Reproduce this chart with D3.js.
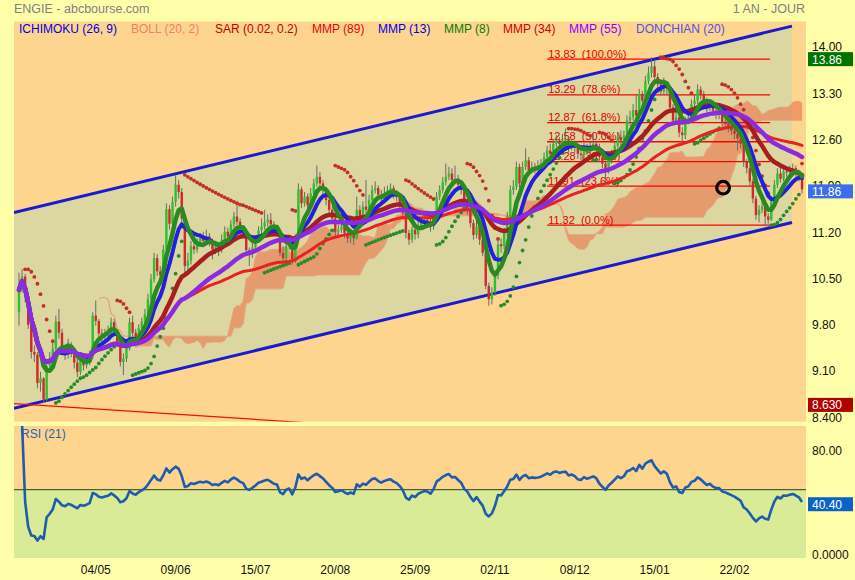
<!DOCTYPE html>
<html>
<head>
<meta charset="utf-8">
<title>ENGIE - abcbourse.com</title>
<script src="https://cdn.jsdelivr.net/npm/d3@7"></script>
<style>
html, body { margin: 0; padding: 0; background: #ffffaa; }
svg { display: block; font-family: Arial, "Liberation Sans", sans-serif; }
</style>
</head>
<body>
<svg id="chart" width="855" height="580"></svg>
<script>
// daily quotes, one value per session (open = previous close)
var firstOpen = 10.00;
var closes = [
  10.34, 10.54, 10.25, 9.81, 9.40, 9.36, 8.93, 9.00, 8.68, 9.19,
  9.30, 9.45, 9.86, 9.69, 9.43, 9.36, 9.47, 9.40, 9.24, 9.10,
  9.28, 9.20, 9.26, 9.35, 9.95, 9.87, 9.68, 9.62, 9.68, 9.72,
  9.85, 9.72, 9.55, 9.25, 9.30, 9.45, 9.85, 9.69, 9.62, 9.76,
  9.86, 9.97, 10.20, 10.50, 10.82, 10.62, 10.56, 10.95, 11.56, 11.34,
  11.67, 11.93, 11.82, 11.42, 10.70, 10.78, 11.00, 10.95, 11.05, 11.12,
  11.08, 11.15, 11.08, 10.95, 11.00, 10.95, 11.10, 11.22, 11.15, 11.33,
  11.45, 11.37, 11.26, 11.20, 10.94, 10.88, 10.98, 11.10, 11.24, 11.30,
  11.36, 11.40, 11.33, 11.25, 11.22, 10.90, 10.82, 11.00, 11.05, 10.80,
  11.10, 11.86, 11.65, 11.75, 11.62, 11.80, 11.95, 12.05, 11.95, 11.85,
  11.70, 11.55, 11.42, 11.22, 11.25, 11.30, 11.20, 11.12, 11.18, 11.12,
  11.55, 11.45, 11.60, 11.55, 11.70, 11.85, 11.88, 11.78, 11.72, 11.80,
  11.85, 11.88, 11.80, 11.75, 11.65, 11.50, 11.20, 11.10, 11.25, 11.18,
  11.30, 11.35, 11.40, 11.38, 11.30, 11.45, 11.75, 11.85, 11.97, 12.05,
  12.10, 12.00, 12.02, 11.93, 11.85, 11.65, 11.55, 11.35, 11.17, 11.30,
  11.10, 10.90, 10.40, 10.20, 10.30, 10.56, 11.03, 11.00, 11.20, 11.45,
  11.85, 11.90, 12.20, 11.95, 12.20, 12.30, 12.15, 12.20, 12.18, 12.20,
  12.25, 12.35, 12.45, 12.40, 12.55, 12.60, 12.55, 12.60, 12.62, 12.50,
  12.55, 12.50, 12.40, 12.38, 12.50, 12.45, 12.50, 12.55, 12.50, 12.35,
  12.25, 12.15, 12.30, 12.40, 12.52, 12.65, 12.60, 12.68, 12.90, 12.95,
  13.06, 12.98, 13.30, 13.20, 13.50, 13.62, 13.72, 13.56, 13.45, 13.34,
  13.45, 13.38, 13.10, 12.90, 12.95, 12.72, 12.68, 12.90, 12.95, 13.15,
  13.20, 13.37, 13.30, 13.20, 13.10, 13.15, 13.05, 13.00, 13.00, 12.88,
  12.85, 12.80, 12.75, 12.70, 12.63, 12.55, 12.28, 12.18, 11.98, 11.72,
  11.47, 11.55, 11.60, 11.45, 11.40, 11.67, 11.93, 12.10, 12.02, 12.13,
  12.12, 12.15, 12.18, 12.12, 12.05, 11.86
];
var highs = [
  10.60, 10.65, 10.58, 10.30, 9.85, 9.50, 9.40, 9.10, 9.02, 9.25,
  9.40, 9.55, 9.95, 10.05, 9.75, 9.50, 9.60, 9.55, 9.45, 9.30,
  9.35, 9.38, 9.33, 9.42, 10.00, 10.18, 9.90, 9.75, 9.75, 9.80,
  9.92, 9.90, 9.75, 9.58, 9.38, 9.52, 9.92, 9.95, 9.75, 9.82,
  9.92, 10.05, 10.28, 10.58, 10.90, 10.88, 10.70, 11.02, 11.65, 11.62,
  11.75, 12.08, 12.00, 11.88, 11.45, 10.90, 11.08, 11.10, 11.12, 11.20,
  11.22, 11.25, 11.20, 11.12, 11.08, 11.05, 11.18, 11.30, 11.28, 11.40,
  11.52, 11.62, 11.42, 11.30, 11.22, 10.98, 11.05, 11.16, 11.30, 11.42,
  11.55, 11.48, 11.50, 11.38, 11.32, 11.25, 11.00, 11.08, 11.12, 11.10,
  11.18, 11.95, 11.90, 11.82, 11.80, 11.88, 12.02, 12.22, 12.12, 12.00,
  11.90, 11.75, 11.60, 11.48, 11.32, 11.38, 11.35, 11.28, 11.25, 11.22,
  11.75, 11.62, 11.68, 12.00, 11.78, 11.92, 11.98, 11.92, 11.85, 11.90,
  11.92, 11.95, 11.92, 11.85, 11.80, 11.70, 11.52, 11.25, 11.30, 11.30,
  11.38, 11.42, 11.48, 11.46, 11.42, 11.52, 11.82, 11.92, 12.05, 12.25,
  12.20, 12.18, 12.22, 12.08, 11.98, 11.90, 11.72, 11.60, 11.40, 11.38,
  11.35, 11.15, 10.92, 10.45, 10.38, 10.62, 11.10, 11.12, 11.28, 11.52,
  11.92, 12.00, 12.28, 12.25, 12.28, 12.48, 12.35, 12.28, 12.26, 12.30,
  12.32, 12.42, 12.52, 12.55, 12.62, 12.68, 12.65, 12.70, 12.78, 12.66,
  12.62, 12.60, 12.55, 12.45, 12.56, 12.55, 12.58, 12.72, 12.60, 12.55,
  12.40, 12.30, 12.36, 12.46, 12.58, 12.72, 12.75, 12.75, 12.98, 13.05,
  13.15, 13.28, 13.38, 13.35, 13.58, 13.72, 13.86, 13.80, 13.62, 13.52,
  13.55, 13.50, 13.42, 13.15, 13.05, 12.98, 12.80, 12.96, 13.02, 13.22,
  13.30, 13.45, 13.42, 13.35, 13.25, 13.22, 13.18, 13.10, 13.08, 13.05,
  12.95, 12.90, 12.85, 12.80, 12.75, 12.68, 12.60, 12.32, 12.22, 12.02,
  11.76, 11.62, 11.68, 11.65, 11.50, 11.72, 12.00, 12.18, 12.20, 12.20,
  12.20, 12.22, 12.25, 12.22, 12.16, 12.08
];
var lows = [
  9.80, 10.30, 10.15, 9.75, 9.30, 9.25, 8.85, 8.80, 8.63, 8.65,
  9.10, 9.25, 9.40, 9.60, 9.35, 9.28, 9.30, 9.32, 9.15, 9.02,
  9.05, 9.12, 9.15, 9.20, 9.30, 9.80, 9.60, 9.55, 9.58, 9.62,
  9.68, 9.65, 9.48, 9.18, 9.05, 9.25, 9.42, 9.62, 9.55, 9.58,
  9.70, 9.80, 9.92, 10.15, 10.45, 10.55, 10.45, 10.50, 10.90, 11.25,
  11.30, 11.60, 11.72, 11.35, 10.60, 10.62, 10.72, 10.88, 10.90, 11.00,
  11.00, 11.02, 11.00, 10.80, 10.88, 10.85, 10.90, 11.05, 11.08, 11.10,
  11.28, 11.32, 11.20, 11.12, 10.88, 10.70, 10.82, 10.92, 11.05, 11.18,
  11.25, 11.30, 11.28, 11.18, 11.15, 10.85, 10.75, 10.78, 10.95, 10.72,
  10.75, 11.05, 11.58, 11.60, 11.55, 11.58, 11.75, 11.90, 11.88, 11.78,
  11.62, 11.48, 11.35, 11.15, 11.15, 11.20, 11.12, 11.05, 11.05, 11.02,
  11.10, 11.38, 11.40, 11.50, 11.50, 11.65, 11.80, 11.72, 11.65, 11.68,
  11.75, 11.78, 11.72, 11.68, 11.58, 11.42, 11.12, 11.02, 11.05, 11.10,
  11.12, 11.25, 11.30, 11.30, 11.22, 11.25, 11.40, 11.70, 11.80, 11.92,
  12.00, 11.92, 11.95, 11.85, 11.78, 11.58, 11.48, 11.28, 11.10, 11.12,
  11.02, 10.85, 10.35, 10.10, 10.12, 10.25, 10.50, 10.90, 10.95, 11.15,
  11.40, 11.78, 11.85, 11.88, 11.90, 12.15, 12.08, 12.10, 12.10, 12.12,
  12.15, 12.18, 12.30, 12.32, 12.35, 12.50, 12.48, 12.50, 12.55, 12.42,
  12.45, 12.42, 12.32, 12.30, 12.32, 12.38, 12.40, 12.45, 12.42, 12.28,
  12.18, 11.95, 12.10, 12.25, 12.35, 12.48, 12.52, 12.55, 12.62, 12.82,
  12.90, 12.92, 12.95, 13.12, 13.15, 13.45, 13.55, 13.48, 13.38, 13.28,
  13.30, 13.30, 13.02, 12.82, 12.85, 12.65, 12.55, 12.62, 12.85, 12.90,
  13.10, 13.15, 13.22, 13.12, 13.02, 13.05, 12.98, 12.92, 12.92, 12.80,
  12.78, 12.72, 12.68, 12.62, 12.45, 12.48, 12.20, 12.10, 11.90, 11.65,
  11.40, 11.36, 11.50, 11.32, 11.34, 11.38, 11.62, 11.88, 11.96, 11.98,
  12.05, 12.08, 12.10, 12.05, 11.98, 11.80
];

var dateTicks = [25, 51, 77, 103, 129, 155, 181, 207, 233];
var dateLabels = ['04/05', '09/06', '15/07', '20/08', '25/09', '02/11', '08/12', '15/01', '22/02'];

var priceTicks = [14.0, 13.3, 12.6, 11.9, 11.2, 10.5, 9.8, 9.1, 8.4];
var priceTickLabels = ['14.00', '13.30', '12.60', '11.90', '11.20', '10.50', '9.80', '9.10', '8.400'];
var rsiTicks = [80, 0];
var rsiTickLabels = ['80.00', '0.0000'];
var rsiLast = 40.40;

var fibLevels = [13.83, 13.29, 12.87, 12.58, 12.28, 11.91, 11.32];
var fibPercents = ['100.0%', '78.6%', '61.8%', '50.0%', '38.2%', '23.6%', '0.0%'];
var fibRange = [172, 244.6];

// regression channel and trend line, as [session index, price]
var channelUpper = [[-1.6, 11.51], [251.8, 14.33]];
var channelLower = [[-1.6, 8.55], [251.8, 11.36]];
var trendLine = [[-1.6, 8.62], [100, 8.31]];
var markerPoint = [229.3, 11.885];

var legendLabels = ['ICHIMOKU (26, 9)', 'BOLL (20, 2)', 'SAR (0.02, 0.2)', 'MMP (89)', 'MMP (13)',
  'MMP (8)', 'MMP (34)', 'MMP (55)', 'DONCHIAN (20)'];

(function () {
    'use strict';

    var W = 855;
    var MAIN = { left: 14, right: 806, top: 21.5, bottom: 421.7, plotRight: 792 };
    var RSIP = { top: 426, bottom: 558 };

    var legendColors = ['#0000dd', '#f08070', '#c00000', '#ee0000', '#0000dd',
        '#008000', '#d00000', '#8a00ff', '#5050e0'];
    var legendX = [19, 131, 215, 312, 378, 444, 503, 569, 636];

    var svg = d3.select('#chart');

    var x = d3.scaleLinear().domain([0, closes.length - 1]).range([19, 802]);
    var y = d3.scaleLinear().domain([8.4, 14]).range([418.1, 47.9]);
    var yr = d3.scaleLinear().domain([0, 80]).range([555, 450.5]);

    /**
     * Weighted moving average (MMP). Early sessions use the data available.
     */
    function wma(values, period) {
        return values.map(function (v, i) {
            var n = Math.min(period, i + 1), sum = 0, wsum = 0;
            for (var k = 0; k < n; k++) {
                sum += values[i - k] * (n - k);
                wsum += n - k;
            }
            return sum / wsum;
        });
    }

    /**
     * Parabolic SAR, step 0.02, max 0.2
     */
    function parabolicSar(hi, lo, step, maxStep) {
        var out = [];
        var up = false, af = step;
        var sar = Math.max(hi[0], hi[1]);
        var ep = Math.min(lo[0], lo[1]);
        for (var i = 2; i < hi.length; i++) {
            sar = sar + af * (ep - sar);
            if (up) {
                sar = Math.min(sar, lo[i - 1], lo[i - 2]);
                if (lo[i] < sar) {
                    up = false; sar = ep; ep = lo[i]; af = step;
                } else if (hi[i] > ep) {
                    ep = hi[i]; af = Math.min(af + step, maxStep);
                }
            } else {
                sar = Math.max(sar, hi[i - 1], hi[i - 2]);
                if (hi[i] > sar) {
                    up = true; sar = ep; ep = hi[i]; af = step;
                } else if (lo[i] < ep) {
                    ep = lo[i]; af = Math.min(af + step, maxStep);
                }
            }
            out.push({ i: i, value: sar, up: up });
        }
        return out;
    }

    function midRange(hi, lo, i, period) {
        var from = Math.max(0, i - period + 1);
        var h = d3.max(hi.slice(from, i + 1));
        var l = d3.min(lo.slice(from, i + 1));
        return (h + l) / 2;
    }

    /**
     * Ichimoku cloud (tenkan 9, kijun 26, span B 52), shifted 26 sessions
     */
    function ichimokuCloud(hi, lo) {
        var out = [];
        for (var i = 26; i < hi.length; i++) {
            var j = i - 26;
            out.push({
                i: i,
                a: (midRange(hi, lo, j, 9) + midRange(hi, lo, j, 26)) / 2,
                b: midRange(hi, lo, j, 52)
            });
        }
        return out;
    }

    function rsi(values, period) {
        var out = [], avgG = 0, avgL = 0;
        for (var i = 1; i < values.length; i++) {
            var ch = values[i] - values[i - 1];
            var g = Math.max(ch, 0), l = Math.max(-ch, 0);
            var n = Math.min(i, period);
            avgG = (avgG * (n - 1) + g) / n;
            avgL = (avgL * (n - 1) + l) / n;
            out.push({ i: i, v: avgL === 0 ? 100 : 100 - 100 / (1 + avgG / avgL) });
        }
        return out;
    }

    var candles = closes.map(function (c, i) {
        return { i: i, o: i === 0 ? firstOpen : closes[i - 1], c: c, h: highs[i], l: lows[i] };
    });

    // --- titles
    svg.append('text').attr('x', 14).attr('y', 12.7).attr('font-size', 12.5)
        .attr('fill', '#808080').text('ENGIE - abcbourse.com');
    svg.append('text').attr('x', 805).attr('y', 12.7).attr('font-size', 12.5)
        .attr('text-anchor', 'end').attr('fill', '#808080').text('1 AN - JOUR');

    // --- panels
    var defs = svg.append('defs');
    defs.append('clipPath').attr('id', 'clip-main').append('rect')
        .attr('x', MAIN.left).attr('y', MAIN.top)
        .attr('width', MAIN.right - MAIN.left).attr('height', MAIN.bottom - MAIN.top);
    defs.append('clipPath').attr('id', 'clip-rsi').append('rect')
        .attr('x', MAIN.left).attr('y', RSIP.top)
        .attr('width', MAIN.right - MAIN.left).attr('height', RSIP.bottom - RSIP.top);

    svg.append('rect').attr('x', MAIN.left).attr('y', MAIN.top)
        .attr('width', MAIN.right - MAIN.left).attr('height', MAIN.bottom - MAIN.top)
        .attr('fill', '#fed58f');

    var main = svg.append('g').attr('clip-path', 'url(#clip-main)');

    // channel fill between the two regression lines
    var xl = MAIN.left, xr = MAIN.plotRight;
    function lineAt(pts, px) {
        var i = x.invert(px);
        var t = (i - pts[0][0]) / (pts[1][0] - pts[0][0]);
        return y(pts[0][1] + t * (pts[1][1] - pts[0][1]));
    }
    main.append('path')
        .attr('d', 'M' + xl + ',' + lineAt(channelUpper, xl) + 'L' + xr + ',' + lineAt(channelUpper, xr)
            + 'L' + xr + ',' + lineAt(channelLower, xr) + 'L' + xl + ',' + lineAt(channelLower, xl) + 'Z')
        .attr('fill', '#dcd7a0');

    // ichimoku cloud
    var cloud = ichimokuCloud(highs, lows);
    main.append('path').datum(cloud)
        .attr('d', d3.area().x(function (d) { return x(d.i); })
            .y0(function (d) { return y(d.a); }).y1(function (d) { return y(d.b); }))
        .attr('fill', 'rgba(232,118,78,0.62)');
    ['a', 'b'].forEach(function (k) {
        main.append('path').datum(cloud)
            .attr('d', d3.line().x(function (d) { return x(d.i); }).y(function (d) { return y(d[k]); }))
            .attr('fill', 'none').attr('stroke', '#eba27e').attr('stroke-width', 1);
    });

    // fibonacci retracement
    var fib = main.append('g');
    fibLevels.forEach(function (lv, k) {
        fib.append('line').attr('x1', x(fibRange[0])).attr('x2', x(fibRange[1]))
            .attr('y1', y(lv)).attr('y2', y(lv))
            .attr('stroke', '#ff0000').attr('stroke-width', 1.3);
        fib.append('text').attr('x', x(fibRange[0]) + 1).attr('y', y(lv) - 1.5)
            .attr('font-size', 11).attr('fill', '#e00000').style('white-space', 'pre')
            .text(lv.toFixed(2) + '  (' + fibPercents[k] + ')');
    });

    // channel lines and trend line
    [channelUpper, channelLower].forEach(function (pts) {
        main.append('line').attr('x1', xl).attr('y1', lineAt(pts, xl))
            .attr('x2', xr).attr('y2', lineAt(pts, xr))
            .attr('stroke', '#1a1ad0').attr('stroke-width', 3);
    });
    main.append('line')
        .attr('x1', x(trendLine[0][0])).attr('y1', y(trendLine[0][1]))
        .attr('x2', x(trendLine[1][0])).attr('y2', y(trendLine[1][1]))
        .attr('stroke', '#ee1010').attr('stroke-width', 1.2);

    // candles
    var cg = main.append('g');
    cg.selectAll('line.wick').data(candles).enter().append('line')
        .attr('x1', function (d) { return x(d.i); }).attr('x2', function (d) { return x(d.i); })
        .attr('y1', function (d) { return y(d.h); }).attr('y2', function (d) { return y(d.l); })
        .attr('stroke', '#6a6a6a').attr('stroke-width', 1);
    cg.selectAll('rect').data(candles).enter().append('rect')
        .attr('x', function (d) { return x(d.i) - 1.2; })
        .attr('width', 2.4)
        .attr('y', function (d) { return y(Math.max(d.o, d.c)); })
        .attr('height', function (d) { return Math.max(1, Math.abs(y(d.o) - y(d.c))); })
        .attr('fill', function (d) { return d.c >= d.o ? '#2fc02f' : '#cf2a2a'; });

    // parabolic SAR dots
    main.append('g').selectAll('circle').data(parabolicSar(highs, lows, 0.02, 0.2)).enter()
        .append('circle')
        .attr('cx', function (d) { return x(d.i); })
        .attr('cy', function (d) { return y(d.value); })
        .attr('r', 1.9)
        .attr('fill', function (d) { return d.up ? '#2a8a2a' : '#c0302c'; });

    // weighted moving averages
    var maStyles = [
        { p: 89, color: '#e82222', w: 3 },
        { p: 34, color: '#a81e1e', w: 4.5 },
        { p: 13, color: '#2020dd', w: 4 },
        { p: 8, color: '#2a8a22', w: 4.5 },
        { p: 55, color: '#8a2be2', w: 4.5 }
    ];
    maStyles.forEach(function (s) {
        var vals = wma(closes, s.p);
        main.append('path').datum(vals)
            .attr('d', d3.line().x(function (d, i) { return x(i); }).y(function (d) { return y(d); }))
            .attr('fill', 'none').attr('stroke', s.color).attr('stroke-width', s.w)
            .attr('stroke-linejoin', 'round').attr('stroke-linecap', 'round');
    });

    // annotation circle
    main.append('circle').attr('cx', x(markerPoint[0])).attr('cy', y(markerPoint[1]))
        .attr('r', 6.3).attr('fill', 'none').attr('stroke', '#000').attr('stroke-width', 3.2);

    // legend
    legendLabels.forEach(function (t, k) {
        svg.append('text').attr('x', legendX[k]).attr('y', 33.3).attr('font-size', 12)
            .attr('fill', legendColors[k]).text(t);
    });

    // price axis
    var ax = svg.append('g').attr('font-size', 12).attr('fill', '#111');
    priceTicks.forEach(function (v, k) {
        ax.append('text').attr('x', 812).attr('y', y(v) + 3.5).text(priceTickLabels[k]);
    });

    var fmt = d3.format('.4r');
    function badge(value, scale, color) {
        var cy = scale(value) + 2;
        svg.append('rect').attr('x', 808).attr('y', cy - 7).attr('width', 45).attr('height', 14)
            .attr('fill', color);
        svg.append('text').attr('x', 812).attr('y', cy + 4.5).attr('font-size', 12)
            .attr('fill', '#fff').text(fmt(value));
    }
    badge(d3.max(highs), y, '#007400');
    badge(closes[closes.length - 1], y, '#3b6cf2');
    badge(d3.min(lows), y, '#b00000');

    // --- RSI panel
    var y50 = yr(50);
    svg.append('rect').attr('x', MAIN.left).attr('y', RSIP.top)
        .attr('width', MAIN.right - MAIN.left).attr('height', y50 - RSIP.top).attr('fill', '#fed58f');
    svg.append('rect').attr('x', MAIN.left).attr('y', y50)
        .attr('width', MAIN.right - MAIN.left).attr('height', RSIP.bottom - y50).attr('fill', '#d9eb96');
    svg.append('line').attr('x1', MAIN.left).attr('x2', MAIN.right).attr('y1', y50).attr('y2', y50)
        .attr('stroke', '#4f5f2c').attr('stroke-width', 1.2);

    var rg = svg.append('g').attr('clip-path', 'url(#clip-rsi)');
    rg.append('text').attr('x', 21).attr('y', 438).attr('font-size', 12)
        .attr('fill', '#1f63b0').text('RSI (21)');
    rg.append('path').datum(rsi(closes, 21))
        .attr('d', d3.line().x(function (d) { return x(d.i); }).y(function (d) { return yr(d.v); }))
        .attr('fill', 'none').attr('stroke', '#1f5cae').attr('stroke-width', 2.6)
        .attr('stroke-linejoin', 'round');

    rsiTicks.forEach(function (v, k) {
        ax.append('text').attr('x', 812).attr('y', yr(v) + 4).text(rsiTickLabels[k]);
    });
    badge(rsiLast, yr, '#0a64c8');

    // date axis
    dateTicks.forEach(function (t, k) {
        svg.append('text').attr('x', x(t)).attr('y', 574).attr('font-size', 12)
            .attr('text-anchor', 'middle').attr('fill', '#111').text(dateLabels[k]);
    });
})();
</script>
</body>
</html>
